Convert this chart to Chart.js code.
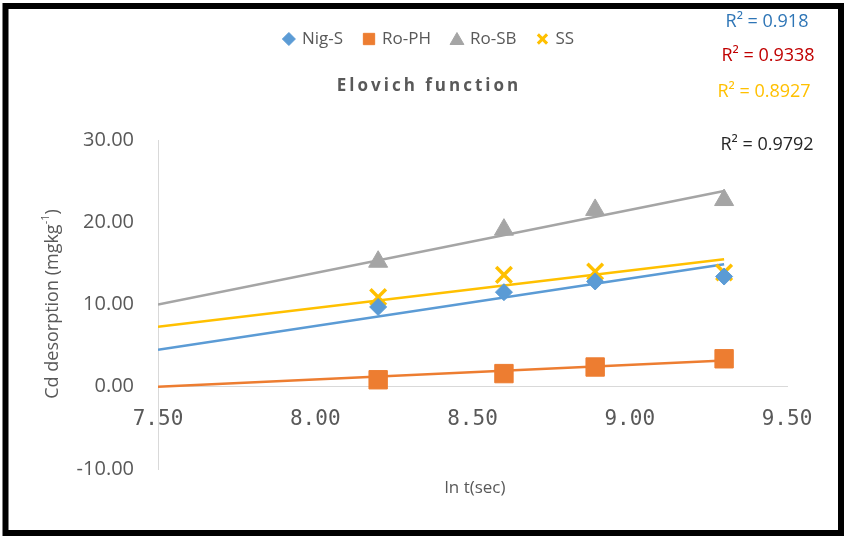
<!DOCTYPE html>
<html>
<head>
<meta charset="utf-8">
<script src="https://cdn.jsdelivr.net/npm/chart.js@4.4.1/dist/chart.umd.min.js"></script>
<style>
  html, body { margin: 0; padding: 0; background: #ffffff; }
  #cvs_elovich { display: block; }
</style>
</head>
<body>
<canvas id="cvs_elovich" width="844" height="536"></canvas>
<script>
// valores
const lnTempo = [8.2, 8.6, 8.89, 9.3];
const nigS = [9.7, 11.5, 12.8, 13.4];
const roPH = [0.85, 1.6, 2.4, 3.4];
const roSB = [15.2, 19.1, 21.5, 22.7];
const ss = [10.9, 13.6, 14.0, 13.9];

// linhas de tendência (início em 7.50, fim no último ponto)
const tendX = [7.5, 9.3];
const nigSTend = [4.5, 14.9];
const roPHTend = [0.0, 3.2];
const roSBTend = [10.0, 23.8];
const ssTend = [7.3, 15.5];

const seriesNomes = ["Nig-S", "Ro-PH", "Ro-SB", "SS"];
const rQuadrado = ["0.918", "0.9338", "0.8927", "0.9792"];
const xTicks = [7.5, 8.0, 8.5, 9.0, 9.5];
const yTicks = [-10, 0, 10, 20, 30];

const cinzaTexto = "#595959";
const fonte = "'Open Sans', 'Noto Sans', sans-serif";

function pontos(xs, ys) {
  return xs.map((x, i) => ({ x: x, y: ys[i] }));
}

const estilos = [
  { cor: "#5B9BD5", pointStyle: "rectRot", radius: 8.5, borderWidth: 1 },
  { cor: "#ED7D31", pointStyle: "rect", radius: 13, borderWidth: 1 },
  { cor: "#A5A5A5", pointStyle: "triangle", radius: 11, borderWidth: 1 },
  { cor: "#FFC000", pointStyle: "crossRot", radius: 11, borderWidth: 3.5 },
];
const valores = [nigS, roPH, roSB, ss];
const tendencias = [nigSTend, roPHTend, roSBTend, ssTend];

const datasets = [];
for (let i = 0; i < 4; i++) {
  datasets.push({
    label: seriesNomes[i],
    data: pontos(lnTempo, valores[i]),
    showLine: false,
    pointStyle: estilos[i].pointStyle,
    pointRadius: estilos[i].radius,
    pointHoverRadius: estilos[i].radius,
    pointBackgroundColor: estilos[i].cor,
    pointBorderColor: estilos[i].cor,
    pointBorderWidth: estilos[i].borderWidth,
    order: 0,
  });
}
for (let i = 0; i < 4; i++) {
  datasets.push({
    label: seriesNomes[i] + " tendência",
    data: pontos(tendX, tendencias[i]),
    showLine: true,
    borderColor: estilos[i].cor,
    borderWidth: 2.5,
    pointRadius: 0,
    fill: false,
    order: 1,
  });
}

// textos, legenda e moldura desenhados por cima
const extras = {
  id: "extras",
  afterDraw(chart) {
    const ctx = chart.ctx;
    ctx.save();

    // legenda
    ctx.font = "17px " + fonte;
    ctx.textBaseline = "middle";
    ctx.textAlign = "left";
    const larguras = seriesNomes.map((n) => ctx.measureText(n).width);
    const marcador = 14, espaco = 6, entre = 19;
    let total = 0;
    larguras.forEach((w) => (total += marcador + espaco + w));
    total += entre * 3;
    let x = 428 - total / 2;
    const yLeg = 39;
    for (let i = 0; i < 4; i++) {
      const e = estilos[i];
      ctx.fillStyle = e.cor;
      ctx.strokeStyle = e.cor;
      ctx.lineWidth = e.pointStyle === "crossRot" ? 3 : 1;
      const r = e.pointStyle === "rect" ? 8 : e.pointStyle === "triangle" ? 8 : 6.5;
      Chart.helpers.drawPoint(ctx, { pointStyle: e.pointStyle, radius: r, rotation: 0, borderWidth: ctx.lineWidth }, x + marcador / 2, yLeg + (e.pointStyle === "triangle" ? 1.5 : 0));
      ctx.fillStyle = cinzaTexto;
      ctx.fillText(seriesNomes[i], x + marcador + espaco, yLeg);
      x += marcador + espaco + larguras[i] + entre;
    }

    // título
    ctx.font = "bold 17px " + fonte;
    ctx.fillStyle = cinzaTexto;
    ctx.textAlign = "center";
    ctx.letterSpacing = "3px";
    ctx.fillText("Elovich function", 429, 86);
    ctx.letterSpacing = "0px";

    // R²
    const rCores = ["#2E75B6", "#C00000", "#FFC000", "#262626"];
    const rPos = [[767, 22], [768, 56], [764, 92], [767, 145]];
    ctx.font = "18px " + fonte;
    for (let i = 0; i < 4; i++) {
      ctx.fillStyle = rCores[i];
      ctx.fillText("R\u00B2 = " + rQuadrado[i], rPos[i][0], rPos[i][1]);
    }

    // título do eixo x
    ctx.font = "17px " + fonte;
    ctx.fillStyle = cinzaTexto;
    ctx.fillText("ln t(sec)", 475, 488);

    // título do eixo y com sobrescrito
    ctx.translate(53, 304);
    ctx.rotate(-Math.PI / 2);
    ctx.textAlign = "left";
    const parte1 = "Cd desorption (mgkg";
    const sup = "-1";
    const parte2 = ")";
    ctx.font = "18px " + fonte;
    const w1 = ctx.measureText(parte1).width;
    const w3 = ctx.measureText(parte2).width;
    ctx.font = "11px " + fonte;
    const w2 = ctx.measureText(sup).width;
    const inicio = -(w1 + w2 + w3) / 2;
    ctx.font = "18px " + fonte;
    ctx.fillText(parte1, inicio, 0);
    ctx.font = "11px " + fonte;
    ctx.fillText(sup, inicio + w1, -7);
    ctx.font = "18px " + fonte;
    ctx.fillText(parte2, inicio + w1 + w2, 0);
    ctx.setTransform(1, 0, 0, 1, 0, 0);

    // moldura preta
    ctx.strokeStyle = "#000000";
    ctx.lineWidth = 6;
    ctx.strokeRect(5.5, 6, 835.5, 527);
    ctx.restore();
  },
};

const cvs = document.getElementById("cvs_elovich");
new Chart(cvs, {
  type: "scatter",
  data: { datasets: datasets },
  plugins: [extras],
  options: {
    responsive: false,
    animation: false,
    layout: { padding: { top: 140, right: 57, bottom: 67, left: 0 } },
    plugins: {
      legend: { display: false },
      title: { display: false },
      tooltip: { enabled: false },
    },
    scales: {
      x: {
        type: "linear",
        position: { y: 0 },
        min: xTicks[0],
        max: xTicks[xTicks.length - 1],
        afterBuildTicks: (scale) => { scale.ticks = xTicks.map((v) => ({ value: v })); },
        grid: { display: false, drawTicks: false },
        border: { display: true, color: "#D9D9D9", width: 1 },
        ticks: {
          padding: 20,
          color: cinzaTexto,
          font: { family: "'DejaVu Sans Mono', monospace", size: 21 },
          callback: (v) => Number(v).toFixed(2),
        },
      },
      y: {
        type: "linear",
        min: yTicks[0],
        max: yTicks[yTicks.length - 1],
        afterBuildTicks: (scale) => { scale.ticks = yTicks.map((v) => ({ value: v })); },
        afterFit: (scale) => { scale.width = 158; },
        grid: { display: false, drawTicks: false },
        border: { display: true, color: "#D9D9D9", width: 1 },
        ticks: {
          padding: 24,
          color: cinzaTexto,
          font: { family: fonte, size: 20 },
          callback: (v) => Number(v).toFixed(2),
        },
      },
    },
  },
});
</script>
</body>
</html>
